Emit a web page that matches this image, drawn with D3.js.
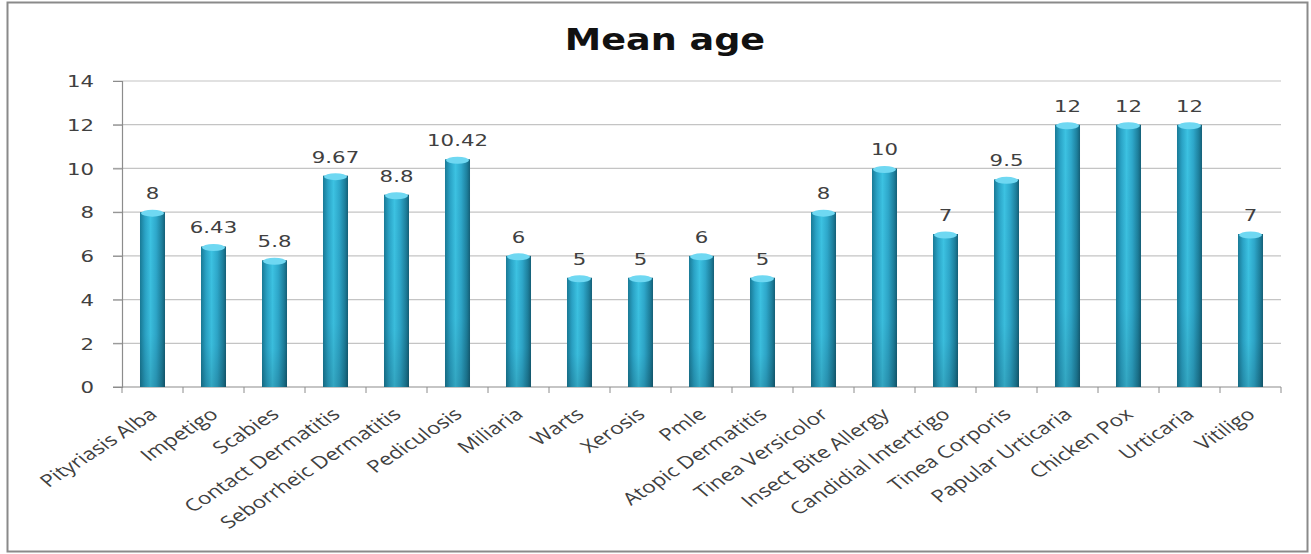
<!DOCTYPE html>
<html><head><meta charset="utf-8">
<script src="https://cdn.jsdelivr.net/npm/d3@7"></script>
<style>body{margin:0;background:#fff;} svg{display:block;}</style>
</head><body>
<svg id="c" width="1311" height="554"></svg>
<script>
const categories = ["Pityriasis Alba","Impetigo","Scabies","Contact Dermatitis","Seborrheic Dermatitis","Pediculosis","Miliaria","Warts","Xerosis","Pmle","Atopic Dermatitis","Tinea Versicolor","Insect Bite Allergy","Candidial Intertrigo","Tinea Corporis","Papular Urticaria","Chicken Pox","Urticaria","Vitiligo"];
const values = [8,6.43,5.8,9.67,8.8,10.42,6,5,5,6,5,8,10,7,9.5,12,12,12,7];
const labels = ["8","6.43","5.8","9.67","8.8","10.42","6","5","5","6","5","8","10","7","9.5","12","12","12","7"];
const yTicks = [0,2,4,6,8,10,12,14];
const title = "Mean age";

const svg = d3.select("#c");
const L = 122, R = 1281, T = 81, B = 387;
const x = d3.scaleBand().domain(categories).range([L, R]).paddingInner(0.59).paddingOuter(0.295);
const y = d3.scaleLinear().domain([0, 14]).range([B, T]);
const sx = 1.33;

// outer border
svg.append("rect").attr("x", 7.5).attr("y", 2.5).attr("width", 1300).attr("height", 549)
  .attr("fill", "#fff").attr("stroke", "#8a8a8a").attr("stroke-width", 2);

const defs = svg.append("defs");
const g = defs.append("linearGradient").attr("id", "cyl").attr("x1", "0").attr("x2", "1").attr("y1", "0").attr("y2", "0");
[[0,"#197a96"],[0.2,"#2aa3c6"],[0.42,"#3cc2e2"],[0.65,"#2ea8cb"],[0.88,"#1d7f9c"],[1,"#155f77"]].forEach(s =>
  g.append("stop").attr("offset", s[0]).attr("stop-color", s[1]));
const gv = defs.append("linearGradient").attr("id", "shade").attr("x1", "0").attr("x2", "0").attr("y1", "0").attr("y2", "1");
gv.append("stop").attr("offset", 0).attr("stop-color", "#000").attr("stop-opacity", 0);
gv.append("stop").attr("offset", 0.7).attr("stop-color", "#000").attr("stop-opacity", 0.03);
gv.append("stop").attr("offset", 1).attr("stop-color", "#000").attr("stop-opacity", 0.15);

// gridlines
svg.append("g").selectAll("line").data(yTicks.filter(d => d > 0)).join("line")
  .attr("x1", L - 9).attr("x2", R).attr("y1", d => y(d)).attr("y2", d => y(d))
  .attr("stroke", "#c4c4c4").attr("stroke-width", 1.2);

// y axis
const yAxis = svg.append("g").attr("transform", `translate(${L},0)`)
  .call(d3.axisLeft(y).tickValues(yTicks).tickSize(9).tickPadding(0));
yAxis.select(".domain").attr("stroke", "#8c8c8c").attr("stroke-width", 1.2);
yAxis.selectAll(".tick line").attr("stroke", "#8c8c8c");
yAxis.selectAll(".tick text").attr("x", 0).attr("dy", "0.36em")
  .attr("font-family", "DejaVu Sans").attr("font-size", 16).attr("fill", "#404040")
  .attr("text-anchor", "end")
  .attr("transform", `translate(-28,0) scale(${sx},1)`);

// x axis
const xAxis = svg.append("g").attr("transform", `translate(0,${B})`);
xAxis.append("line").attr("x1", L - 9).attr("x2", R).attr("stroke", "#8c8c8c").attr("stroke-width", 1.2);
const bounds = categories.map(c => x(c) - x.step() * x.paddingInner() / 2).concat([R]);
xAxis.selectAll("line.t").data(bounds).join("line").attr("class", "t")
  .attr("x1", d => d).attr("x2", d => d).attr("y1", 0).attr("y2", 6).attr("stroke", "#8c8c8c");

// bars
const bars = svg.append("g").selectAll("g").data(categories).join("g");
bars.append("rect").attr("x", d => x(d)).attr("width", x.bandwidth())
  .attr("y", (d, i) => y(values[i])).attr("height", (d, i) => B - y(values[i]))
  .attr("fill", "url(#cyl)");
bars.append("rect").attr("x", d => x(d)).attr("width", x.bandwidth())
  .attr("y", (d, i) => y(values[i])).attr("height", (d, i) => B - y(values[i]))
  .attr("fill", "url(#shade)");
bars.append("ellipse").attr("cx", d => x(d) + x.bandwidth() / 2).attr("cy", (d, i) => y(values[i]) + 1)
  .attr("rx", x.bandwidth() / 2 - 1).attr("ry", 3.5).attr("fill", "#6fd8f2");

// value labels
svg.append("g").selectAll("text").data(categories).join("text")
  .attr("transform", (d, i) => `translate(${x(d) + x.bandwidth() / 2},${y(values[i]) - 13}) scale(${sx},1)`)
  .attr("text-anchor", "middle").attr("font-family", "DejaVu Sans").attr("font-size", 16)
  .attr("fill", "#404040").text((d, i) => labels[i]);

// category labels
svg.append("g").selectAll("text").data(categories).join("text")
  .attr("transform", d => `translate(${x(d) + x.bandwidth() / 2 + 6},${B + 29}) scale(${sx},1) rotate(-41)`)
  .attr("text-anchor", "end").attr("font-family", "Open Sans").attr("font-size", 17)
  .attr("fill", "#404040").text(d => d);

// title
svg.append("text").attr("transform", `translate(665,50) scale(1.18,1)`)
  .attr("text-anchor", "middle").attr("font-family", "DejaVu Sans").attr("font-weight", "bold")
  .attr("font-size", 31).attr("fill", "#111").text(title);
</script>
</body></html>
